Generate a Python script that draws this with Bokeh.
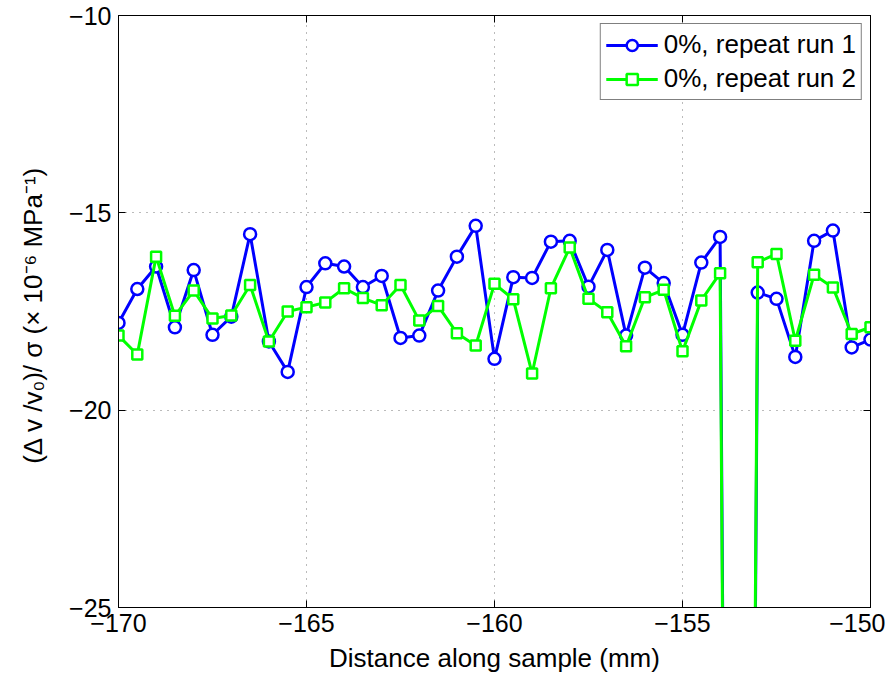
from bokeh.plotting import figure
from bokeh.models import (Range1d, LinearAxis, FixedTicker, Legend, LegendItem,
                          ColumnDataSource, CustomLabelingPolicy)
from bokeh.embed import file_html
from bokeh.resources import INLINE

# ---- data ----
distance_mm = [-170.0, -169.5, -169.0, -168.5, -168.0, -167.5, -167.0, -166.5, -166.0, -165.5,
               -165.0, -164.5, -164.0, -163.5, -163.0, -162.5, -162.0, -161.5, -161.0, -160.5,
               -160.0, -159.5, -159.0, -158.5, -158.0, -157.5, -157.0, -156.5, -156.0, -155.5,
               -155.0, -154.5, -154.0, -153.5, -153.0, -152.5, -152.0, -151.5, -151.0, -150.5,
               -150.0]
run1 = [-17.79, -16.93, -16.36, -17.90, -16.45, -18.09, -17.63, -15.54, -18.26, -19.03,
        -16.88, -16.28, -16.36, -16.88, -16.60, -18.17, -18.11, -16.97, -16.11, -15.33,
        -18.70, -16.63, -16.65, -15.73, -15.71, -16.87, -15.94, -18.11, -16.39, -16.78,
        -18.09, -16.26, -15.61, -85.0, -17.02, -17.18, -18.65, -15.71, -15.45, -18.41,
        -18.21]
run2 = [-18.11, -18.59, -16.11, -17.61, -16.97, -17.68, -17.60, -16.83, -18.26, -17.50,
        -17.39, -17.27, -16.91, -17.16, -17.34, -16.83, -17.73, -17.36, -18.05, -18.36,
        -16.80, -17.19, -19.07, -16.91, -15.88, -17.18, -17.52, -18.38, -17.14, -16.95,
        -18.51, -17.22, -16.53, -85.0, -16.25, -16.04, -18.24, -16.57, -16.89, -18.07,
        -17.90]
labels = ["0%, repeat run 1", "0%, repeat run 2"]
x_ticks = [-170, -165, -160, -155, -150]
x_tick_labels = ["\u2212170", "\u2212165", "\u2212160", "\u2212155", "\u2212150"]
y_ticks = [-25, -20, -15, -10]
y_tick_labels = ["\u221225", "\u221220", "\u221215", "\u221210"]

FONT = "Liberation Sans"
FS = "25px"

p = figure(width=885, height=675, output_backend="svg", toolbar_location=None,
           x_range=Range1d(-170, -150), y_range=Range1d(-25, -10),
           min_border_left=118, min_border_right=15, min_border_top=15, min_border_bottom=64)
p.background_fill_color = "white"
p.border_fill_color = "white"
p.outline_line_color = "black"

src = ColumnDataSource(dict(x=distance_mm, y1=run1, y2=run2))

l1 = p.line("x", "y1", source=src, line_color="#0000ff", line_width=3)
s1 = p.scatter("x", "y1", source=src, marker="circle", size=12, line_color="#0000ff",
               line_width=2.5, fill_color="white")
l2 = p.line("x", "y2", source=src, line_color="#00ff00", line_width=3)
s2 = p.scatter("x", "y2", source=src, marker="square", size=10, line_color="#00ff00",
               line_width=2.5, fill_color="white")

# axes
xo = {t: l for t, l in zip(x_ticks, x_tick_labels)}
yo = {t: l for t, l in zip(y_ticks, y_tick_labels)}
for ax in p.xaxis:
    ax.ticker = FixedTicker(ticks=x_ticks)
    ax.major_label_overrides = xo
    ax.axis_label = "Distance along sample (mm)"
    ax.major_label_standoff = 6
    ax.axis_label_standoff = 8
for ax in p.yaxis:
    ax.ticker = FixedTicker(ticks=y_ticks)
    ax.major_label_overrides = yo
    ax.axis_label = "(\u0394 v /v\u2080)/ \u03c3 (\u00d7 10\u207b\u2076  MPa\u207b\u00b9)"
    ax.major_label_standoff = 7
    ax.axis_label_standoff = 18
for ax in list(p.xaxis) + list(p.yaxis):
    ax.major_tick_in = 7
    ax.major_tick_out = 0
    ax.minor_tick_line_color = None
    ax.axis_line_color = "black"
    ax.major_tick_line_color = "black"
    ax.major_label_text_font = FONT
    ax.major_label_text_font_size = FS
    ax.major_label_text_color = "black"
    ax.axis_label_text_font = FONT
    ax.axis_label_text_font_size = "26px"
    ax.axis_label_text_font_style = "normal"
    ax.axis_label_text_color = "black"

hide_all = CustomLabelingPolicy(code="""
    for (const i of Array.from(indices)) { indices.unset(i) }
    return indices
""")
top = LinearAxis(ticker=FixedTicker(ticks=x_ticks), major_label_text_font_size="0px",
                 major_label_standoff=0, major_tick_in=7, major_tick_out=0,
                 minor_tick_line_color=None, major_label_policy=hide_all)
right = LinearAxis(ticker=FixedTicker(ticks=y_ticks), major_label_text_font_size="0px",
                   major_label_standoff=0, major_tick_in=7, major_tick_out=0,
                   minor_tick_line_color=None, major_label_policy=hide_all)
p.add_layout(top, "above")
p.add_layout(right, "right")

# grid
for g in (p.xgrid, p.ygrid):
    g.grid_line_color = "#777777"
    g.grid_line_dash = "1 6"
    g.grid_line_width = 1
p.xgrid.ticker = FixedTicker(ticks=[-165, -160, -155])
p.ygrid.ticker = FixedTicker(ticks=[-20, -15])

legend = Legend(items=[LegendItem(label=labels[0], renderers=[l1, s1]),
                       LegendItem(label=labels[1], renderers=[l2, s2])],
                location="top_right")
legend.label_text_font = FONT
legend.label_text_font_size = "26px"
legend.label_text_color = "black"
legend.border_line_color = "black"
legend.border_line_width = 1
legend.background_fill_color = "white"
legend.background_fill_alpha = 1
legend.glyph_width = 52
legend.glyph_height = 28
legend.label_height = 28
legend.label_standoff = 6
legend.padding = 5
legend.spacing = 3
legend.margin = 8
p.add_layout(legend, "center")

open("out.html", "w").write(file_html(p, INLINE))
